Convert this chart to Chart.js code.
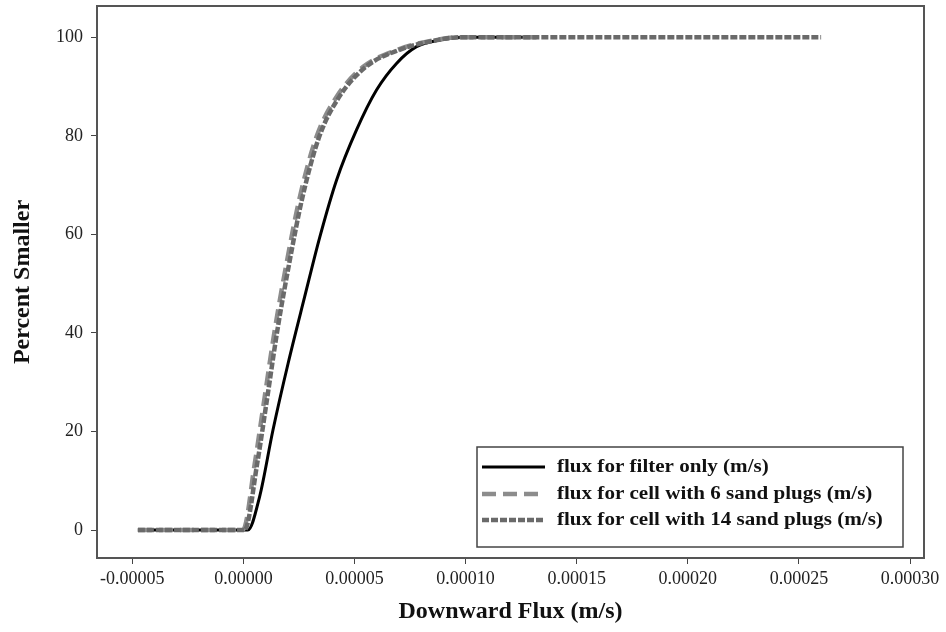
<!DOCTYPE html>
<html>
<head>
<meta charset="utf-8">
<title>Downward Flux CDF</title>
<script src="https://cdn.jsdelivr.net/npm/chart.js@4.4.1/dist/chart.umd.min.js"></script>
<style>
  html, body { margin: 0; padding: 0; background: #fff; }
  #wrap { width: 946px; height: 632px; }
</style>
</head>
<body>
<div id="wrap"><canvas id="chart" width="946" height="632"></canvas></div>
<script>
// values
const xTicks = [-0.00005, 0, 0.00005, 0.0001, 0.00015, 0.0002, 0.00025, 0.0003];
const yTicks = [0, 20, 40, 60, 80, 100];

const seriesNames = [
    'flux for filter only (m/s)',
    'flux for cell with 6 sand plugs (m/s)',
    'flux for cell with 14 sand plugs (m/s)'
];

const filterX = [-0.0000475, 0.000002, 0.0000073, 0.0000133, 0.0000201, 0.0000276, 0.0000344, 0.0000419, 0.0000509, 0.0000599, 0.0000689, 0.0000779, 0.000088, 0.0001, 0.000126];
const filterY = [0, 0, 6.8, 20.3, 33.8, 47.4, 59.5, 71.0, 81.2, 89.3, 94.7, 98.1, 99.4, 100, 100];

const plugs6X = [-0.0000475, -0.0000002, 0.0000051, 0.0000096, 0.0000141, 0.0000194, 0.0000254, 0.0000329, 0.0000419, 0.0000539, 0.0000689, 0.0000869, 0.0000974, 0.000135];
const plugs6Y = [0, 0, 13.5, 27.1, 40.6, 54.1, 67.6, 79.8, 87.9, 94.0, 97.4, 99.5, 100, 100];

const plugs14X = [-0.0000475, 0.0000005, 0.0000062, 0.0000108, 0.0000153, 0.0000206, 0.0000266, 0.0000341, 0.0000431, 0.0000551, 0.0000699, 0.0000879, 0.0000984, 0.00013, 0.00026];
const plugs14Y = [0, 0, 13.5, 27.1, 40.6, 54.1, 67.6, 79.8, 87.9, 94.0, 97.4, 99.5, 100, 100, 100];

const serif = '"Liberation Serif", "Times New Roman", serif';

function toPoints(xs, ys) {
    return xs.map((x, i) => ({ x: x, y: ys[i] }));
}

// box around the plot + legend inside lower right
const framePlugin = {
    id: 'frame',
    afterDraw(chart) {
        const ctx = chart.ctx;
        const a = chart.chartArea;
        ctx.save();
        ctx.strokeStyle = '#555';
        ctx.lineWidth = 2;
        ctx.strokeRect(a.left, a.top, a.right - a.left, a.bottom - a.top);

        // legend
        const bx = 477, by = 447, bw = 426, bh = 100;
        ctx.fillStyle = '#fff';
        ctx.fillRect(bx, by, bw, bh);
        ctx.strokeStyle = '#444';
        ctx.lineWidth = 1.5;
        ctx.strokeRect(bx, by, bw, bh);

        const rows = [467, 494, 520];
        ctx.font = 'bold 18px ' + serif;
        ctx.textBaseline = 'middle';
        chart.data.datasets.forEach((ds, i) => {
            const y = rows[i];
            ctx.beginPath();
            ctx.strokeStyle = ds.borderColor;
            ctx.lineWidth = ds.borderWidth;
            ctx.setLineDash(ds.borderDash || []);
            ctx.moveTo(482, y);
            ctx.lineTo(545, y);
            ctx.stroke();
            ctx.setLineDash([]);
            ctx.fillStyle = '#111';
            // the original text is a bit wide
            ctx.save();
            ctx.translate(557, y);
            ctx.scale(1.17, 1);
            ctx.fillText(ds.label, 0, 0);
            ctx.restore();
        });
        ctx.restore();
    }
};

const ctx = document.getElementById('chart').getContext('2d');
const chart = new Chart(ctx, {
    type: 'line',
    data: {
        datasets: [
            {
                label: seriesNames[0],
                data: toPoints(filterX, filterY),
                borderColor: '#000',
                borderWidth: 3,
                pointRadius: 0,
                cubicInterpolationMode: 'monotone',
                order: 2
            },
            {
                label: seriesNames[1],
                data: toPoints(plugs6X, plugs6Y),
                borderColor: '#8c8c8c',
                borderWidth: 4.5,
                borderDash: [14, 7],
                pointRadius: 0,
                cubicInterpolationMode: 'monotone',
                order: 1
            },
            {
                label: seriesNames[2],
                data: toPoints(plugs14X, plugs14Y),
                borderColor: '#6a6a6a',
                borderWidth: 4.5,
                borderDash: [7, 2],
                pointRadius: 0,
                cubicInterpolationMode: 'monotone',
                order: 0
            }
        ]
    },
    options: {
        responsive: false,
        animation: false,
        layout: { padding: { top: 6, right: 22, left: 0, bottom: 0 } },
        plugins: {
            legend: { display: false },
            tooltip: { enabled: false }
        },
        scales: {
            x: {
                type: 'linear',
                min: -0.0000659,
                max: 0.0003063,
                afterBuildTicks: s => { s.ticks = xTicks.map(v => ({ value: v })); },
                afterFit: s => { s.height = 74; s.paddingLeft = 0; s.paddingRight = 0; },
                grid: { drawOnChartArea: false, drawTicks: true, tickLength: 6, color: '#444' },
                border: { display: true, color: '#555', width: 2 },
                ticks: {
                    padding: 4,
                    color: '#222',
                    maxRotation: 0,
                    font: { family: serif, size: 18 },
                    callback: v => v.toFixed(5)
                },
                title: {
                    display: true,
                    text: 'Downward Flux (m/s)',
                    color: '#111',
                    font: { family: serif, size: 24, weight: 'bold' },
                    padding: { top: 0, bottom: 6 }
                }
            },
            y: {
                type: 'linear',
                min: -5.68,
                max: 106.35,
                afterBuildTicks: s => { s.ticks = yTicks.map(v => ({ value: v })); },
                afterFit: s => { s.width = 97; s.paddingTop = 0; s.paddingBottom = 0; },
                grid: { drawOnChartArea: false, drawTicks: true, tickLength: 6, color: '#444' },
                border: { display: true, color: '#555', width: 2 },
                ticks: {
                    padding: 8,
                    color: '#222',
                    font: { family: serif, size: 18 }
                },
                title: {
                    display: true,
                    text: 'Percent Smaller',
                    color: '#111',
                    font: { family: serif, size: 24, weight: 'bold' },
                    padding: { top: 8, bottom: 0 }
                }
            }
        }
    },
    plugins: [framePlugin]
});
</script>
</body>
</html>
